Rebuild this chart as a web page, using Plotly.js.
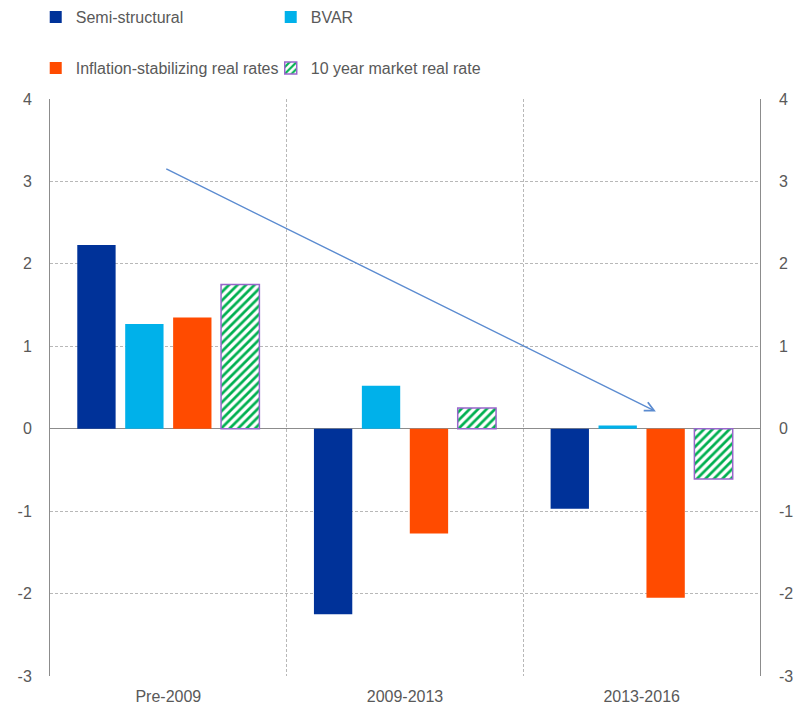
<!DOCTYPE html>
<html>
<head>
<meta charset="utf-8">
<script src="https://cdn.plot.ly/plotly-3.0.1.min.js"></script>
<style>html,body{margin:0;padding:0;background:#fff;}#chart{width:794px;height:712px;}</style>
</head>
<body>
<div id="chart"></div>
<script>
const categories = ["Pre-2009", "2009-2013", "2013-2016"];
const semiStructural = [2.23, -2.25, -0.97];
const bvar = [1.27, 0.52, 0.04];
const inflationStabilizing = [1.35, -1.27, -2.05];
const marketRealRate10y = [1.75, 0.25, -0.61];
const yTicks = [-3, -2, -1, 0, 1, 2, 3, 4];
const yTickLabels = ["-3", "-2", "-1", "0", "1", "2", "3", "4"];
// trend arrow (category index, value)
const arrowStart = [-0.015, 3.16];
const arrowEnd = [2.06, 0.21];

const font = {family: "Liberation Sans, Arial, sans-serif", size: 16, color: "#595959"};

const traces = [
  {type: "bar", name: "Semi-structural", x: categories, y: semiStructural,
   marker: {color: "#003299"}, legend: "legend"},
  {type: "bar", name: "BVAR", x: categories, y: bvar,
   marker: {color: "#00b1ea"}, legend: "legend"},
  {type: "bar", name: "Inflation-stabilizing real rates", x: categories, y: inflationStabilizing,
   marker: {color: "#ff4b00"}, legend: "legend2"},
  {type: "bar", name: "10 year market real rate", x: categories, y: marketRealRate10y,
   marker: {color: "#ffffff", line: {color: "#9966cc", width: 1.5},
            pattern: {shape: "/", fgcolor: "#00b050", bgcolor: "#ffffff", size: 6, solidity: 0.45}},
   legend: "legend2"},
  {type: "scatter", x: categories, y: [null, null, null], yaxis: "y2", showlegend: false, hoverinfo: "skip"}
];

const legendCommon = {
  orientation: "h", xref: "container", yref: "container", xanchor: "left", yanchor: "middle",
  font: font, entrywidth: 190, entrywidthmode: "pixels", bgcolor: "rgba(0,0,0,0)",
  itemwidth: 30, tracegroupgap: 0, traceorder: "normal"
};

const layout = {
  width: 794, height: 712,
  margin: {l: 50, r: 34, t: 99, b: 36},
  paper_bgcolor: "#ffffff", plot_bgcolor: "#ffffff",
  font: font,
  barmode: "group", bargap: 0.19, bargroupgap: 0.2,
  showlegend: true,
  legend: Object.assign({}, legendCommon, {x: 0.045, y: 1 - 17/712}),
  legend2: Object.assign({}, legendCommon, {x: 0.045, y: 1 - 68/712}),
  xaxis: {
    type: "category", tickson: "boundaries", showgrid: true, gridcolor: "#b8b8b8",
    griddash: "3px,2px", gridwidth: 1, ticks: "", ticklen: 0, showline: false, zeroline: false,
    tickfont: font, range: [-0.5, 2.5], ticklabelstandoff: 9
  },
  yaxis: {
    range: [-3, 4], tickvals: yTicks, ticktext: yTickLabels, showgrid: true, gridcolor: "#b8b8b8",
    griddash: "3px,2px", gridwidth: 1, showline: true, mirror: true, linecolor: "#8c8c8c", linewidth: 1,
    zeroline: true, zerolinecolor: "#8c8c8c", zerolinewidth: 1,
    ticks: "", tickfont: font, ticklabelstandoff: 14
  },
  yaxis2: {
    range: [-3, 4], tickvals: yTicks, ticktext: yTickLabels, overlaying: "y", side: "right", showgrid: false,
    zeroline: false, showline: false, ticks: "", tickfont: font, ticklabelstandoff: 18
  },
  annotations: [{
    x: arrowEnd[0], y: arrowEnd[1], ax: arrowStart[0], ay: arrowStart[1],
    xref: "x", yref: "y", axref: "x", ayref: "y", text: "", showarrow: true,
    arrowhead: 5, arrowsize: 1.3, arrowwidth: 1.4, arrowcolor: "#5b8bd0"
  }]
};

Plotly.newPlot("chart", traces, layout, {displayModeBar: false, staticPlot: true});
</script>
</body>
</html>
